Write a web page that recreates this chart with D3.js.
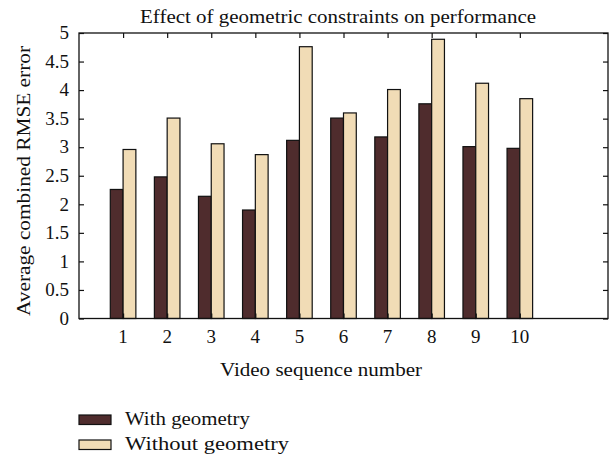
<!DOCTYPE html>
<html lang="en">
<head>
<meta charset="UTF-8">
<script src="https://cdn.jsdelivr.net/npm/d3@7/dist/d3.min.js"></script>
<style>
  body { margin: 0; background: #fff; }
  svg text { font-family: "Liberation Serif", "DejaVu Serif", serif; fill: #111; }
</style>
</head>
<body>
<script>
  // Data
  var sequences = [1, 2, 3, 4, 5, 6, 7, 8, 9, 10];
  var withGeometry    = [2.26, 2.48, 2.14, 1.90, 3.12, 3.51, 3.18, 3.76, 3.01, 2.98];
  var withoutGeometry = [2.96, 3.51, 3.06, 2.87, 4.76, 3.60, 4.01, 4.89, 4.12, 3.85];
  var yTicks = [0, 0.5, 1, 1.5, 2, 2.5, 3, 3.5, 4, 4.5, 5];
  var seriesNames = ["With geometry", "Without geometry"];
  var seriesColors = ["#4f2c2d", "#f1dcb6"];

  var width = 614, height = 458;
  // plot frame (note: 'top' is reserved on window, so use pTop etc)
  var pLeft = 79, pRight = 608, pTop = 33, pBottom = 318.5;
  var barW = 0.29; // in x units

  var svg = d3.select("body").append("svg")
      .attr("width", width)
      .attr("height", height);

  var x = d3.scaleLinear().domain([0, 12]).range([pLeft, pRight]);
  var y = d3.scaleLinear().domain([0, 5]).range([pBottom, pTop]);

  /* bars */
  var series = [withGeometry, withoutGeometry];
  series.forEach(function(vals, s) {
    svg.append("g").selectAll("rect")
      .data(vals)
      .enter().append("rect")
      .attr("x", function(d, i) { return x(sequences[i] + (s - 1) * barW); })
      .attr("y", function(d) { return y(d); })
      .attr("width", function(d, i) { return x(sequences[i] + barW) - x(sequences[i]); })
      .attr("height", function(d) { return y(0) - y(d); })
      .attr("fill", seriesColors[s])
      .attr("stroke", "#111")
      .attr("stroke-width", 1.2);
  });

  /* axes: ticks point inward on all four sides */
  var tl = 5;
  svg.append("g").attr("transform", "translate(0," + pBottom + ")")
    .call(d3.axisTop(x).tickValues(sequences).tickSize(tl).tickFormat(""));
  svg.append("g").attr("transform", "translate(0," + pTop + ")")
    .call(d3.axisBottom(x).tickValues(sequences).tickSize(tl).tickFormat(""));
  svg.append("g").attr("transform", "translate(" + pLeft + ",0)")
    .call(d3.axisRight(y).tickValues(yTicks).tickSize(tl).tickFormat(""));
  svg.append("g").attr("transform", "translate(" + pRight + ",0)")
    .call(d3.axisLeft(y).tickValues(yTicks).tickSize(tl).tickFormat(""));
  svg.selectAll(".domain").remove();
  svg.selectAll(".tick line").attr("stroke", "#111").attr("stroke-width", 1.2);

  // frame
  svg.append("rect")
    .attr("x", pLeft).attr("y", pTop)
    .attr("width", pRight - pLeft).attr("height", pBottom - pTop)
    .attr("fill", "none").attr("stroke", "#111").attr("stroke-width", 1.3);

  // tick labels
  svg.append("g").selectAll("text")
    .data(yTicks).enter().append("text")
    .attr("x", pLeft - 10)
    .attr("y", function(d) { return y(d); })
    .attr("dy", "0.33em")
    .attr("text-anchor", "end")
    .attr("font-size", 19)
    .text(function(d) { return d; });

  svg.append("g").selectAll("text")
    .data(sequences).enter().append("text")
    .attr("x", function(d) { return x(d); })
    .attr("y", pBottom + 24)
    .attr("text-anchor", "middle")
    .attr("font-size", 19)
    .text(function(d) { return d; });

  // titles
  svg.append("text")
    .attr("x", 338).attr("y", 23)
    .attr("text-anchor", "middle")
    .attr("font-size", 19)
    .attr("textLength", 396).attr("lengthAdjust", "spacingAndGlyphs")
    .text("Effect of geometric constraints on performance");

  svg.append("text")
    .attr("x", 321).attr("y", 376)
    .attr("text-anchor", "middle")
    .attr("font-size", 19)
    .attr("textLength", 202).attr("lengthAdjust", "spacingAndGlyphs")
    .text("Video sequence number");

  svg.append("text")
    .attr("transform", "translate(30,181) rotate(-90)")
    .attr("text-anchor", "middle")
    .attr("font-size", 19)
    .attr("textLength", 270).attr("lengthAdjust", "spacingAndGlyphs")
    .text("Average combined RMSE error");

  /* legend */
  var legend = svg.append("g").selectAll("g")
    .data(seriesNames).enter().append("g")
    .attr("transform", function(d, i) { return "translate(79," + (415 + i * 25) + ")"; });
  legend.append("rect")
    .attr("width", 32).attr("height", 9.5)
    .attr("fill", function(d, i) { return seriesColors[i]; })
    .attr("stroke", "#111").attr("stroke-width", 1.2);
  legend.append("text")
    .attr("x", 46).attr("y", 10)
    .attr("font-size", 19)
    .attr("textLength", function(d, i) { return i === 0 ? 125 : 164; })
    .attr("lengthAdjust", "spacingAndGlyphs")
    .text(function(d) { return d; });
</script>
</body>
</html>
